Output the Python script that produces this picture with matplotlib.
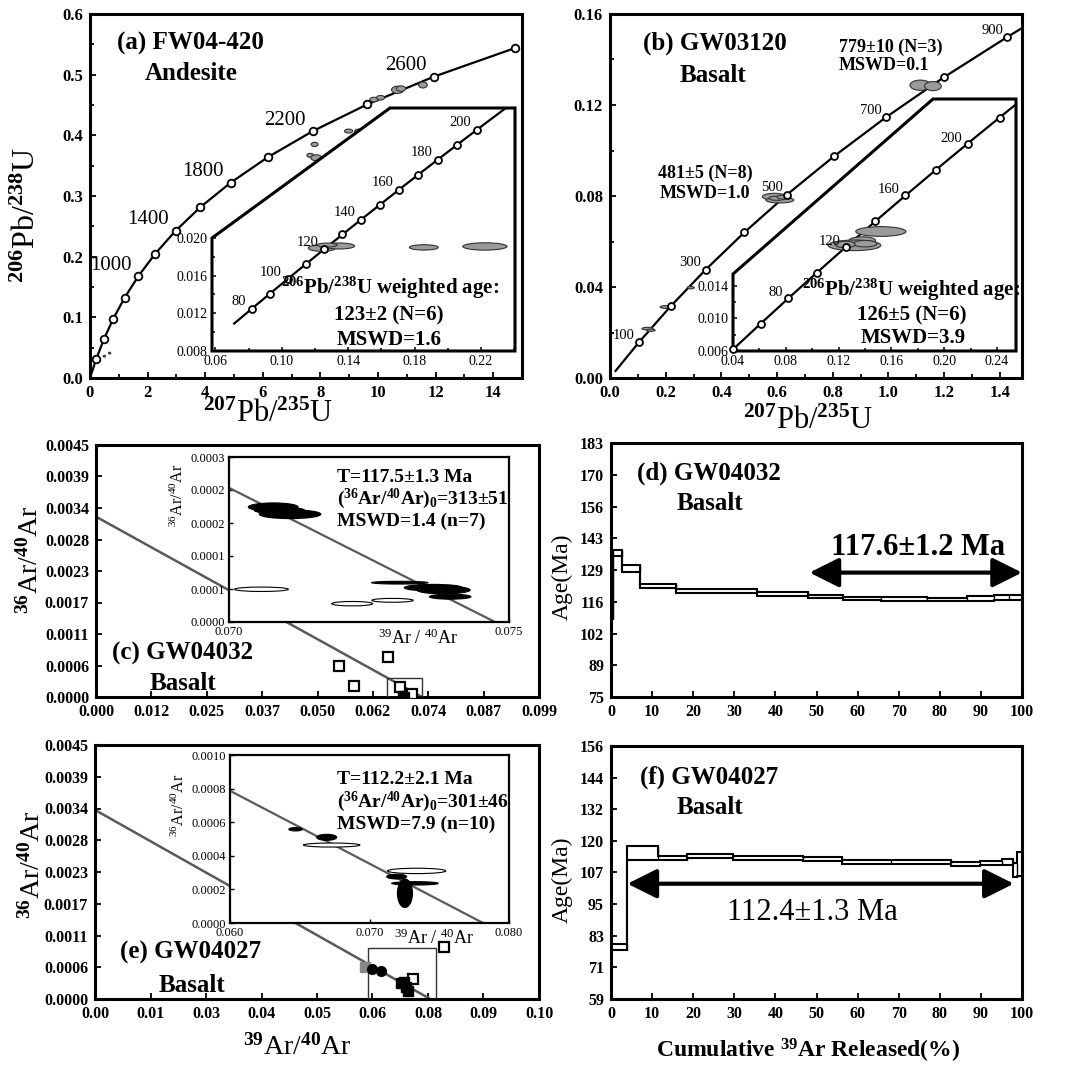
import matplotlib
matplotlib.use('Agg')
import matplotlib.pyplot as plt
from matplotlib.patches import Ellipse, Polygon, Rectangle

plt.rcParams['font.family'] = ['Liberation Serif', 'DejaVu Serif']
plt.rcParams['mathtext.fontset'] = 'custom'
plt.rcParams['mathtext.rm'] = 'Liberation Serif'
plt.rcParams['mathtext.it'] = 'Liberation Serif:italic'
plt.rcParams['mathtext.bf'] = 'Liberation Serif:bold'

# ---------------- DATA ----------------
# (a) concordia markers (age Ma, 207Pb/235U, 206Pb/238U)
a_age = [200, 400, 600, 800, 1000, 1200, 1400, 1600, 1800, 2000, 2200, 2400, 2600, 2800]
a_x = [0.2177, 0.4828, 0.8056, 1.1987, 1.6774, 2.2603, 2.9702, 3.8347, 4.8871, 6.1692, 7.7300, 9.6305, 11.9449, 14.7627]
a_y = [0.0315, 0.0640, 0.0975, 0.1321, 0.1678, 0.2046, 0.2426, 0.2817, 0.3221, 0.3638, 0.4068, 0.4511, 0.4968, 0.5440]
a_lab_age = ['1000', '1400', '1800', '2200', '2600']
a_ell_x = [7.80, 7.65, 7.86, 8.98, 9.33, 9.86, 10.09, 10.68, 10.80, 11.56, 0.50, 0.68]
a_ell_y = [0.385, 0.367, 0.363, 0.407, 0.407, 0.459, 0.462, 0.475, 0.477, 0.483, 0.036, 0.041]
a_ell_w = [0.24, 0.24, 0.38, 0.28, 0.28, 0.30, 0.28, 0.42, 0.32, 0.30, 0.08, 0.08]
a_ell_h = [0.0070, 0.0065, 0.010, 0.0065, 0.0065, 0.0075, 0.0075, 0.012, 0.009, 0.010, 0.003, 0.003]
# (a) inset concordia
ai_age = [80, 90, 100, 110, 120, 130, 140, 150, 160, 170, 180, 190, 200]
ai_x = [0.08198, 0.09268, 0.10350, 0.11442, 0.12545, 0.13659, 0.14784, 0.15920, 0.17067, 0.18225, 0.19396, 0.20577, 0.21771]
ai_y = [0.012487, 0.014059, 0.015634, 0.017210, 0.018789, 0.020371, 0.021955, 0.023542, 0.025131, 0.026722, 0.028316, 0.029912, 0.031511]
ai_line_x = [0.07137, 0.23583]
ai_line_y = [0.010918, 0.033915]
ai_lab_age = ['80', '100', '120', '140', '160', '180', '200']
ai_ell_x = [0.1242, 0.1347, 0.1273, 0.1856, 0.2224]
ai_ell_y = [0.01893, 0.01915, 0.01925, 0.0190, 0.0191]
ai_ell_w = [0.0164, 0.0184, 0.0123, 0.0174, 0.0266]
ai_ell_h = [0.0007, 0.00064, 0.00042, 0.00057, 0.00078]

# (b) concordia markers
b_age = [100, 200, 300, 400, 500, 600, 700, 800, 900]
b_x = [0.1035, 0.2177, 0.3437, 0.4828, 0.6362, 0.8056, 0.9925, 1.1987, 1.4264]
b_y = [0.01563, 0.03151, 0.04764, 0.06402, 0.08065, 0.09754, 0.11470, 0.13213, 0.14983]
b_line_x = [0.0199, 1.4746]
b_line_y = [0.00311, 0.15340]
b_lab_age = ['100', '300', '500', '700', '900']
b_ell_x = [0.590, 0.610, 0.600, 0.625, 1.115, 1.160, 0.135, 0.147, 0.200, 0.290]
b_ell_y = [0.0797, 0.0782, 0.0790, 0.0795, 0.1287, 0.1283, 0.0217, 0.0210, 0.0312, 0.0397]
b_ell_w = [0.085, 0.10, 0.06, 0.05, 0.075, 0.06, 0.04, 0.03, 0.04, 0.025]
b_ell_h = [0.0030, 0.0025, 0.0018, 0.0018, 0.0045, 0.004, 0.0012, 0.001, 0.0012, 0.001]
# (b) inset concordia
bi_age = [40, 60, 80, 100, 120, 140, 160, 180, 200, 220]
bi_x = [0.04018, 0.06087, 0.08198, 0.10350, 0.12545, 0.14784, 0.17067, 0.19396, 0.21771, 0.24193]
bi_y = [0.006224, 0.009351, 0.012487, 0.015634, 0.018789, 0.021955, 0.025131, 0.028316, 0.031511, 0.034716]
bi_line_x = [0.04018, 0.25422]
bi_line_y = [0.006224, 0.036323]
bi_lab_age = ['80', '120', '160', '200']
bi_ell_x = [0.152, 0.138, 0.132, 0.140, 0.125]
bi_ell_y = [0.0207, 0.0196, 0.0190, 0.0192, 0.0191]
bi_ell_w = [0.038, 0.020, 0.040, 0.018, 0.015]
bi_ell_h = [0.0012, 0.0009, 0.0013, 0.0008, 0.0008]

# (c) isochron GW04032
c_xticklabels = ['0.000', '0.012', '0.025', '0.037', '0.050', '0.062', '0.074', '0.087', '0.099']
ar_yticklabels = ['0.0000', '0.0006', '0.0011', '0.0017', '0.0023', '0.0028', '0.0034', '0.0039', '0.0045']
c_line_x = [0.0, 0.0730]
c_line_y = [0.00322, 0.0]
c_sq_x = [0.0544, 0.0578, 0.0654, 0.0681, 0.0708]
c_sq_y = [0.00055, 0.00020, 0.00071, 0.00018, 0.00005]
c_blk_x = [0.0684, 0.0695]
c_blk_y = [0.00006, 0.00004]
c_box = [0.0652, 0.0729, 0.0, 0.00034]
ci_yticklabels = ['0.0000', '0.0001', '0.0001', '0.0002', '0.0002', '0.0003']
ci_line_x = [0.070, 0.07475]
ci_line_y = [0.000244, 0.0]
ci_ell_x = [0.07079, 0.07109, 0.07090, 0.07305, 0.07365, 0.07383, 0.07395, 0.07058, 0.07220, 0.07292]
ci_ell_y = [0.000209, 0.000196, 0.000203, 0.0000715, 0.0000624, 0.0000582, 0.0000460, 0.0000595, 0.0000333, 0.0000394]
ci_ell_w = [0.00089, 0.00110, 0.00090, 0.00101, 0.00104, 0.00095, 0.00074, 0.00096, 0.00073, 0.00074]
ci_ell_h = [0.000015, 0.000016, 0.000012, 0.000005, 0.000012, 0.000014, 0.000009, 0.000008, 0.000008, 0.000007]
ci_ell_filled = [True, True, True, True, True, True, True, False, False, False]

# (d) age spectrum GW04032
d_edges = [0, 0.6, 2.7, 7.1, 15.8, 35.6, 47.9, 56.4, 65.7, 77.0, 86.7, 93.1, 96.8, 100]
d_lo = [108.0, 134.9, 128.3, 121.2, 119.4, 118.0, 117.0, 116.1, 116.0, 115.8, 116.0, 116.3, 116.3]
d_hi = [137.5, 137.5, 131.1, 123.1, 120.8, 119.5, 118.5, 117.5, 117.5, 117.3, 118.0, 118.5, 118.2]
d_yticklabels = ['75', '89', '102', '116', '129', '143', '156', '170', '183']

# (e) isochron GW04027
e_xticklabels = ['0.00', '0.01', '0.03', '0.04', '0.05', '0.06', '0.08', '0.09', '0.10']
e_line_x = [0.0, 0.0755]
e_line_y = [0.00335, 0.0]
e_sq_x = [0.0785, 0.0716]
e_sq_y = [0.00093, 0.00035]
e_gsq_x = [0.0608]
e_gsq_y = [0.00056]
e_dot_x = [0.0625, 0.0645]
e_dot_y = [0.00053, 0.00049]
e_bsq_x = [0.0690, 0.0700, 0.0705, 0.0697]
e_bsq_y = [0.00028, 0.00022, 0.00015, 0.00031]
e_box = [0.0615, 0.0768, 0.0, 0.00090]
ei_xticklabels = ['0.060', '0.070', '0.080']
ei_yticklabels = ['0.0000', '0.0002', '0.0004', '0.0006', '0.0008', '0.0010']
ei_line_x = [0.060, 0.07814]
ei_line_y = [0.000787, 0.0]
ei_ell_x = [0.0647, 0.06693, 0.06729, 0.07338, 0.07195, 0.07326, 0.07254]
ei_ell_y = [0.000558, 0.000510, 0.000464, 0.000310, 0.000276, 0.000236, 0.000177]
ei_ell_w = [0.00096, 0.00143, 0.00406, 0.00418, 0.00143, 0.00335, 0.00108]
ei_ell_h = [0.000020, 0.000036, 0.000024, 0.000032, 0.000028, 0.000020, 0.000170]
ei_ell_filled = [True, True, False, False, True, True, True]

# (f) age spectrum GW04027
f_edges = [0, 3.9, 11.5, 18.5, 29.8, 46.6, 56.2, 68.1, 82.7, 89.8, 95.2, 97.7, 98.8, 100]
f_lo = [77.9, 112.4, 112.4, 113.0, 112.4, 112.1, 110.7, 110.7, 110.1, 110.4, 110.2, 105.6, 106.0]
f_hi = [80.1, 117.5, 113.9, 114.5, 113.9, 113.6, 112.4, 112.4, 111.7, 111.9, 112.6, 111.3, 115.5]
f_yticklabels = ['59', '71', '83', '95', '107', '120', '132', '144', '156']

# ---------------- FIGURE ----------------
W, H = 1072, 1065
fig = plt.figure(figsize=(W / 100, H / 100), dpi=100)


def add_ax(l, t, r, b):
    return fig.add_axes([l / W, 1 - b / H, (r - l) / W, (b - t) / H])


def ftext(x, y, s, **kw):
    kw.setdefault('ha', 'center')
    kw.setdefault('va', 'center')
    fig.text(x / W, 1 - y / H, s, **kw)


def style_main(ax):
    for s in ax.spines.values():
        s.set_linewidth(2.2)
    ax.tick_params(which='both', direction='in', width=1.3, top=False, right=False, pad=5)
    ax.tick_params(which='major', length=4)
    ax.tick_params(which='minor', length=3)


def set_ticks(ax, xt, xl, yt, yl, weight='bold', size=12):
    ax.set_xticks(xt, xl, fontweight=weight, fontsize=size)
    ax.set_yticks(yt, yl, fontweight=weight, fontsize=size)


def cut_inset(l, t, r, b, ycut_px, xcut_px):
    ax = add_ax(l, t, r, b)
    ax.patch.set_visible(False)
    for s in ax.spines.values():
        s.set_visible(False)
    yc = (b - ycut_px) / (b - t)
    xc = (xcut_px - l) / (r - l)
    poly = Polygon([(0, 0), (1, 0), (1, 1), (xc, 1), (0, yc)], closed=True,
                   transform=ax.transAxes, fc='white', ec='black', lw=2.2, zorder=0, clip_on=False)
    ax.add_patch(poly)
    ax.tick_params(which='both', direction='in', width=1.1, top=False, right=False, pad=3)
    ax.tick_params(which='major', length=3)
    ax.tick_params(which='minor', length=2)
    return ax


def add_ellipses(ax, xs, ys, ws, hs, fc='#9a9a9a', ec='#333333', lw=0.8, filled=None):
    for i in range(len(xs)):
        f = fc
        if filled is not None:
            f = 'black' if filled[i] else 'white'
        ax.add_patch(Ellipse((xs[i], ys[i]), ws[i], hs[i], fc=f, ec=ec if filled is None else 'black', lw=lw, zorder=3))


def concordia(ax, lx, ly, mx, my, ms=5.5):
    ax.plot(lx, ly, color='black', lw=1.6, zorder=2)
    ax.plot(mx, my, 'o', mfc='white', mec='black', ms=ms, mew=1.3, zorder=4, clip_on=False)


def age_labels(ax, ages, labs, mx, my, size, dx=-4, dy=5):
    for lab in labs:
        i = ages.index(int(lab))
        ax.annotate(lab, (mx[i], my[i]), xytext=(dx, dy), textcoords='offset points',
                    ha='right', va='center', fontsize=size, zorder=5)


def spectrum(ax, edges, lo, hi):
    ax.stairs(hi, edges, baseline=None, color='black', lw=1.5, zorder=3)
    ax.stairs(lo, edges, baseline=None, color='black', lw=1.5, zorder=3)
    ax.vlines([edges[0], edges[-1]], [lo[0], lo[-1]], [hi[0], hi[-1]], color='black', lw=1.5, zorder=3)
    ax.vlines(edges[1:-1], lo[:-1], hi[:-1], color='black', lw=1.0, zorder=3)

# ---------- (a) ----------
ax = add_ax(90, 14, 522, 378)
style_main(ax)
ax.set_xlim(0, 15)
ax.set_ylim(0, 0.6)
concordia(ax, [0] + a_x, [0] + a_y, a_x, a_y)
add_ellipses(ax, a_ell_x, a_ell_y, a_ell_w, a_ell_h)
age_labels(ax, a_age, a_lab_age, a_x, a_y, 15, dx=-5, dy=8)
set_ticks(ax, list(range(0, 15, 2)), [str(v) for v in range(0, 15, 2)],
          [0, 0.1, 0.2, 0.3, 0.4, 0.5, 0.6], ['0.0', '0.1', '0.2', '0.3', '0.4', '0.5', '0.6'])
ax.set_xticks(list(range(1, 15, 2)), minor=True)
ax.set_yticks([0.05, 0.15, 0.25, 0.35, 0.45, 0.55], minor=True)

axi = cut_inset(212, 108, 515, 351, 238, 390)
axi.set_xlim(0.058, 0.2405)
axi.set_ylim(0.008, 0.0338)
concordia(axi, [ai_line_x[0]] + ai_x + [ai_line_x[1]], [ai_line_y[0]] + ai_y + [ai_line_y[1]], ai_x, ai_y, ms=5)
add_ellipses(axi, ai_ell_x, ai_ell_y, ai_ell_w, ai_ell_h)
age_labels(axi, ai_age, ai_lab_age, ai_x, ai_y, 10.5, dx=-4, dy=5)
set_ticks(axi, [0.06, 0.10, 0.14, 0.18, 0.22], ['0.06', '0.10', '0.14', '0.18', '0.22'],
          [0.008, 0.012, 0.016, 0.020], ['0.008', '0.012', '0.016', '0.020'], weight='normal', size=10)
axi.set_xticks([0.08, 0.12, 0.16, 0.20, 0.24], minor=True)
axi.set_yticks([0.010, 0.014, 0.018], minor=True)

ftext(190, 43, '(a) FW04-420', fontsize=18, fontweight='bold')
ftext(191, 74, 'Andesite', fontsize=18, fontweight='bold')
ftext(390, 288, r'$^{\mathbf{206}}$Pb/$^{\mathbf{238}}$U weighted age:', fontsize=15, fontweight='bold')
ftext(389, 315, '123±2 (N=6)', fontsize=15, fontweight='bold')
ftext(389, 340, 'MSWD=1.6', fontsize=15, fontweight='bold')
ftext(27, 215, r'$^{\mathbf{206}}$Pb/$^{\mathbf{238}}$U', fontsize=23, rotation=90)
ftext(268, 414, r'$^{\mathbf{207}}$Pb/$^{\mathbf{235}}$U', fontsize=22)

# ---------- (b) ----------
ax = add_ax(610, 14, 1022, 378)
style_main(ax)
ax.set_xlim(0, 1.48)
ax.set_ylim(0, 0.16)
concordia(ax, [b_line_x[0]] + b_x + [b_line_x[1]], [b_line_y[0]] + b_y + [b_line_y[1]], b_x, b_y, ms=5)
add_ellipses(ax, b_ell_x, b_ell_y, b_ell_w, b_ell_h)
age_labels(ax, b_age, b_lab_age, b_x, b_y, 10.5, dx=-3, dy=5)
set_ticks(ax, [0, 0.2, 0.4, 0.6, 0.8, 1.0, 1.2, 1.4], ['0.0', '0.2', '0.4', '0.6', '0.8', '1.0', '1.2', '1.4'],
          [0, 0.04, 0.08, 0.12, 0.16], ['0.00', '0.04', '0.08', '0.12', '0.16'])
ax.set_xticks([0.1, 0.3, 0.5, 0.7, 0.9, 1.1, 1.3], minor=True)
ax.set_yticks([0.02, 0.06, 0.10, 0.14], minor=True)

bxi = cut_inset(733, 99, 1016, 351, 274, 933)
bxi.set_xlim(0.04, 0.2544)
bxi.set_ylim(0.006, 0.037)
concordia(bxi, bi_line_x[:1] + bi_x + bi_line_x[1:], bi_line_y[:1] + bi_y + bi_line_y[1:], bi_x, bi_y, ms=5)
add_ellipses(bxi, bi_ell_x, bi_ell_y, bi_ell_w, bi_ell_h)
age_labels(bxi, bi_age, bi_lab_age, bi_x, bi_y, 10.5, dx=-4, dy=4)
set_ticks(bxi, [0.04, 0.08, 0.12, 0.16, 0.20, 0.24], ['0.04', '0.08', '0.12', '0.16', '0.20', '0.24'],
          [0.006, 0.010, 0.014], ['0.006', '0.010', '0.014'], weight='normal', size=10)
bxi.set_xticks([0.06, 0.10, 0.14, 0.18, 0.22], minor=True)
bxi.set_yticks([0.008, 0.012], minor=True)

ftext(715, 43, '(b) GW03120', fontsize=18, fontweight='bold')
ftext(713, 76, 'Basalt', fontsize=18, fontweight='bold')
ftext(839, 47, '779±10 (N=3)', fontsize=13, fontweight='bold', ha='left')
ftext(839, 66, 'MSWD=0.1', fontsize=13, fontweight='bold', ha='left')
ftext(705, 173, '481±5 (N=8)', fontsize=13, fontweight='bold')
ftext(705, 194, 'MSWD=1.0', fontsize=13, fontweight='bold')
ftext(911, 290, r'$^{\mathbf{206}}$Pb/$^{\mathbf{238}}$U weighted age:', fontsize=15, fontweight='bold')
ftext(912, 315, '126±5 (N=6)', fontsize=15, fontweight='bold')
ftext(913, 338, 'MSWD=3.9', fontsize=15, fontweight='bold')
ftext(808, 421, r'$^{\mathbf{207}}$Pb/$^{\mathbf{235}}$U', fontsize=22)

# ---------- (c) ----------
ax = add_ax(96, 445, 539, 697)
style_main(ax)
ax.set_xlim(0, 0.0992)
ax.set_ylim(0, 0.0045)
ax.plot(c_line_x, c_line_y, color='#5a5a5a', lw=1.8, zorder=2)
ax.add_patch(Rectangle((c_box[0], c_box[2]), c_box[1] - c_box[0], c_box[3] - c_box[2],
                       fill=False, ec='#333333', lw=1.0, zorder=3))
ax.plot(c_sq_x, c_sq_y, 's', mfc='white', mec='black', ms=6.5, mew=1.6, zorder=4)
ax.plot(c_blk_x, c_blk_y, 's', mfc='black', mec='black', ms=5, zorder=4)
set_ticks(ax, [0.0124 * i for i in range(9)], c_xticklabels,
          [0.0045 * i / 8 for i in range(9)], ar_yticklabels, size=11.5)

cxi = add_ax(229, 457, 509, 622)
for s in cxi.spines.values():
    s.set_linewidth(1.6)
cxi.tick_params(which='both', direction='in', width=1.0, length=3, pad=3)
cxi.set_xlim(0.070, 0.075)
cxi.set_ylim(0, 0.0003)
cxi.plot(ci_line_x, ci_line_y, color='#5a5a5a', lw=1.6, zorder=2)
add_ellipses(cxi, ci_ell_x, ci_ell_y, ci_ell_w, ci_ell_h, lw=0.8, filled=ci_ell_filled)
set_ticks(cxi, [0.070, 0.075], ['0.070', '0.075'], [0.00006 * i for i in range(6)], ci_yticklabels,
          weight='normal', size=9)
ftext(337, 477, 'T=117.5±1.3 Ma', fontsize=14, fontweight='bold', ha='left')
ftext(337, 499, r'($^{\mathbf{36}}$Ar/$^{\mathbf{40}}$Ar)$_{\mathbf{0}}$=313±51', fontsize=14, fontweight='bold', ha='left')
ftext(337, 521, 'MSWD=1.4 (n=7)', fontsize=14, fontweight='bold', ha='left')
ftext(178, 495, r'$^{36}$Ar/$^{40}$Ar', fontsize=11.5, rotation=90)
ftext(418, 638, r'$^{39}$Ar / $^{40}$Ar', fontsize=13)
ftext(183, 653, '(c) GW04032', fontsize=18, fontweight='bold')
ftext(183, 684, 'Basalt', fontsize=18, fontweight='bold')
ftext(30, 560, r'$^{\mathbf{36}}$Ar/$^{\mathbf{40}}$Ar', fontsize=20, rotation=90)

# ---------- (d) ----------
ax = add_ax(611, 443, 1022, 697)
style_main(ax)
ax.set_xlim(0, 100)
ax.set_ylim(75, 183)
spectrum(ax, d_edges, d_lo, d_hi)
set_ticks(ax, list(range(0, 101, 10)), [str(v) for v in range(0, 101, 10)],
          [75 + 13.5 * i for i in range(9)], d_yticklabels, size=11.5)
ax.annotate('', xy=(100, 127.9), xytext=(48.3, 127.9), annotation_clip=False,
            arrowprops=dict(arrowstyle='<|-|>,head_length=0.9,head_width=0.45', mutation_scale=20,
                            lw=3, color='black', shrinkA=0, shrinkB=0))
ax.text(74.6, 138.5, '117.6±1.2 Ma', fontsize=22, fontweight='bold', ha='center', va='center')
ftext(709, 473, '(d) GW04032', fontsize=18, fontweight='bold')
ftext(710, 503, 'Basalt', fontsize=18, fontweight='bold')
ftext(562, 577, 'Age(Ma)', fontsize=17, rotation=90)

# ---------- (e) ----------
ax = add_ax(95, 745, 539, 999)
style_main(ax)
ax.set_xlim(0, 0.1)
ax.set_ylim(0, 0.0045)
ax.plot(e_line_x, e_line_y, color='#5a5a5a', lw=1.8, zorder=2)
ax.add_patch(Rectangle((e_box[0], e_box[2]), e_box[1] - e_box[0], e_box[3] - e_box[2],
                       fill=False, ec='#333333', lw=1.0, zorder=3))
ax.plot(e_sq_x, e_sq_y, 's', mfc='white', mec='black', ms=6.5, mew=1.6, zorder=4)
ax.plot(e_gsq_x, e_gsq_y, 's', mfc='#888888', mec='#888888', ms=7, zorder=4)
ax.plot(e_dot_x, e_dot_y, 'o', mfc='black', mec='black', ms=7, zorder=5)
ax.plot(e_bsq_x, e_bsq_y, 's', mfc='black', mec='black', ms=7, zorder=5)
set_ticks(ax, [0.0125 * i for i in range(9)], e_xticklabels,
          [0.0045 * i / 8 for i in range(9)], ar_yticklabels, size=11.5)

exi = add_ax(230, 755, 509, 923)
for s in exi.spines.values():
    s.set_linewidth(1.6)
exi.tick_params(which='both', direction='in', width=1.0, length=3, pad=3)
exi.set_xlim(0.060, 0.080)
exi.set_ylim(0, 0.001)
exi.plot(ei_line_x, ei_line_y, color='#5a5a5a', lw=1.6, zorder=2)
add_ellipses(exi, ei_ell_x, ei_ell_y, ei_ell_w, ei_ell_h, lw=0.8, filled=ei_ell_filled)
set_ticks(exi, [0.060, 0.070, 0.080], ei_xticklabels, [0.0002 * i for i in range(6)], ei_yticklabels,
          weight='normal', size=9)
ftext(337, 780, 'T=112.2±2.1 Ma', fontsize=14, fontweight='bold', ha='left')
ftext(337, 802, r'($^{\mathbf{36}}$Ar/$^{\mathbf{40}}$Ar)$_{\mathbf{0}}$=301±46', fontsize=14, fontweight='bold', ha='left')
ftext(337, 824, 'MSWD=7.9 (n=10)', fontsize=14, fontweight='bold', ha='left')
ftext(179, 805, r'$^{36}$Ar/$^{40}$Ar', fontsize=11.5, rotation=90)
ftext(434, 938, r'$^{39}$Ar / $^{40}$Ar', fontsize=13)
ftext(191, 952, '(e) GW04027', fontsize=18, fontweight='bold')
ftext(192, 985, 'Basalt', fontsize=18, fontweight='bold')
ftext(32, 865, r'$^{\mathbf{36}}$Ar/$^{\mathbf{40}}$Ar', fontsize=20, rotation=90)
ftext(297, 1047, r'$^{\mathbf{39}}$Ar/$^{\mathbf{40}}$Ar', fontsize=20)

# ---------- (f) ----------
ax = add_ax(611, 746, 1022, 999)
style_main(ax)
ax.set_xlim(0, 100)
ax.set_ylim(59, 156)
spectrum(ax, f_edges, f_lo, f_hi)
set_ticks(ax, list(range(0, 101, 10)), [str(v) for v in range(0, 101, 10)],
          [59 + 12.125 * i for i in range(9)], f_yticklabels, size=11.5)
ax.annotate('', xy=(98, 103.2), xytext=(4, 103.2), annotation_clip=False,
            arrowprops=dict(arrowstyle='<|-|>,head_length=0.9,head_width=0.45', mutation_scale=20,
                            lw=3, color='black', shrinkA=0, shrinkB=0))
ax.text(49, 92.2, '112.4±1.3 Ma', fontsize=22, ha='center', va='center')
ftext(709, 777, '(f) GW04027', fontsize=18, fontweight='bold')
ftext(710, 808, 'Basalt', fontsize=18, fontweight='bold')
ftext(562, 880, 'Age(Ma)', fontsize=17, rotation=90)
ftext(808, 1051, r'Cumulative $^{\mathbf{39}}$Ar Released(%)', fontsize=17, fontweight='bold')

fig.savefig('out.png', dpi=100)
